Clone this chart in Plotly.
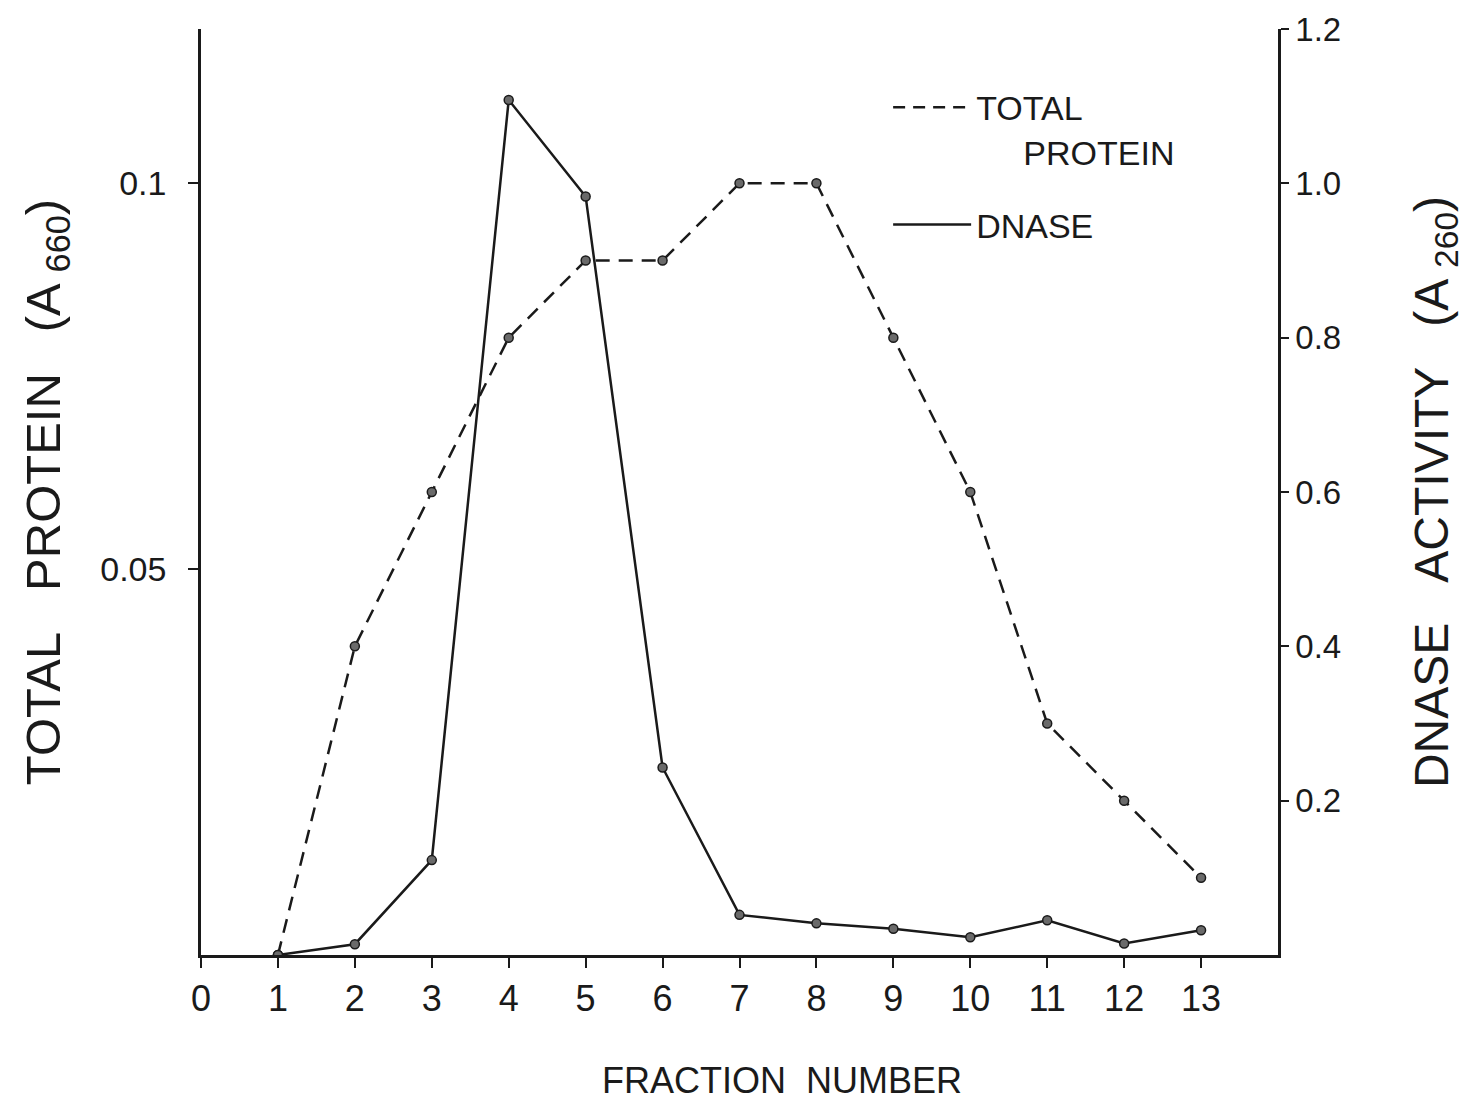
import plotly.graph_objects as go

fractions = [1, 2, 3, 4, 5, 6, 7, 8, 9, 10, 11, 12, 13]
total_protein = [0.0, 0.040, 0.060, 0.080, 0.090, 0.090, 0.100, 0.100, 0.080, 0.060, 0.030, 0.020, 0.010]
dnase = [0.0, 0.014, 0.123, 1.108, 0.983, 0.243, 0.052, 0.041, 0.034, 0.023, 0.045, 0.015, 0.032]

x_ticks = [0, 1, 2, 3, 4, 5, 6, 7, 8, 9, 10, 11, 12, 13]
x_ticktext = ["0", "1", "2", "3", "4", "5", "6", "7", "8", "9", "10", "11", "12", "13"]
left_ticks = [0.05, 0.1]
left_ticktext = ["0.05", "0.1"]
right_ticks = [0.2, 0.4, 0.6, 0.8, 1.0, 1.2]
right_ticktext = ["0.2", "0.4", "0.6", "0.8", "1.0", "1.2"]

FONT = "Liberation Sans"
INK = "#1a1a1a"
MARKER = dict(size=9, color="#6a6a6a", line=dict(color=INK, width=1.5))
SP = "\u00a0\u00a0\u00a0"

fig = go.Figure()
fig.add_trace(go.Scatter(
    x=fractions, y=total_protein, mode="lines+markers", yaxis="y",
    line=dict(color=INK, width=2.5, dash="14px,9px"), marker=MARKER,
    showlegend=False, name="TOTAL PROTEIN"))
fig.add_trace(go.Scatter(
    x=fractions, y=dnase, mode="lines+markers", yaxis="y2",
    line=dict(color=INK, width=2.5), marker=MARKER,
    showlegend=False, name="DNASE"))
# legend entries (line samples only)
fig.add_trace(go.Scatter(
    x=[None], y=[None], mode="lines", yaxis="y",
    line=dict(color=INK, width=2.5, dash="12px,8px"),
    name="TOTAL<br>\u00a0\u00a0\u00a0\u00a0\u00a0PROTEIN", legendgroup="a"))
fig.add_trace(go.Scatter(
    x=[None], y=[None], mode="lines", yaxis="y2",
    line=dict(color=INK, width=2.5),
    name="DNASE", legendgroup="b"))

fig.update_layout(
    width=1475, height=1104,
    margin=dict(l=193, r=205, t=21, b=157),
    paper_bgcolor="white", plot_bgcolor="white",
    font=dict(family=FONT, color=INK, size=34),
    xaxis=dict(
        range=[0, 14], tickvals=x_ticks, ticktext=x_ticktext,
        showgrid=False, zeroline=False, showline=True, linecolor=INK, linewidth=2.5,
        ticks="outside", ticklen=10, tickwidth=2, tickcolor=INK,
        tickfont=dict(size=36, family=FONT), automargin=False,
    ),
    yaxis=dict(
        range=[0, 0.12], tickvals=left_ticks, ticktext=left_ticktext,
        showgrid=False, zeroline=False, showline=True, linecolor=INK, linewidth=2.5,
        ticks="outside", ticklen=10, tickwidth=2, tickcolor=INK,
        tickfont=dict(size=34, family=FONT), ticklabelstandoff=15, automargin=False,
        title=dict(text="TOTAL" + SP + "PROTEIN" + SP + "(A <sub>660</sub>)", font=dict(size=49, family=FONT), standoff=25),
    ),
    yaxis2=dict(
        range=[0, 1.2], tickvals=right_ticks, ticktext=right_ticktext,
        overlaying="y", side="right",
        showgrid=False, zeroline=False, showline=True, linecolor=INK, linewidth=2.5,
        ticks="outside", ticklen=8, tickwidth=2, tickcolor=INK,
        tickfont=dict(size=33, family=FONT), automargin=False, ticklabeloverflow="allow",
        title=dict(text="DNASE" + SP + "ACTIVITY" + SP + "(A <sub>260</sub>)", font=dict(size=48, family=FONT), standoff=75),
    ),
    legend=dict(
        x=0.638, y=0.9465, xanchor="left", yanchor="top",
        bgcolor="rgba(0,0,0,0)", font=dict(size=34, family=FONT),
        valign="top", itemwidth=78, tracegroupgap=26,
    ),
    annotations=[dict(
        text="FRACTION\u00a0\u00a0NUMBER", xref="paper", yref="paper",
        x=0.539, y=-0.135, xanchor="center", yanchor="middle", showarrow=False,
        font=dict(size=36, family=FONT, color=INK),
    )],
)

fig.write_html("out.html")
